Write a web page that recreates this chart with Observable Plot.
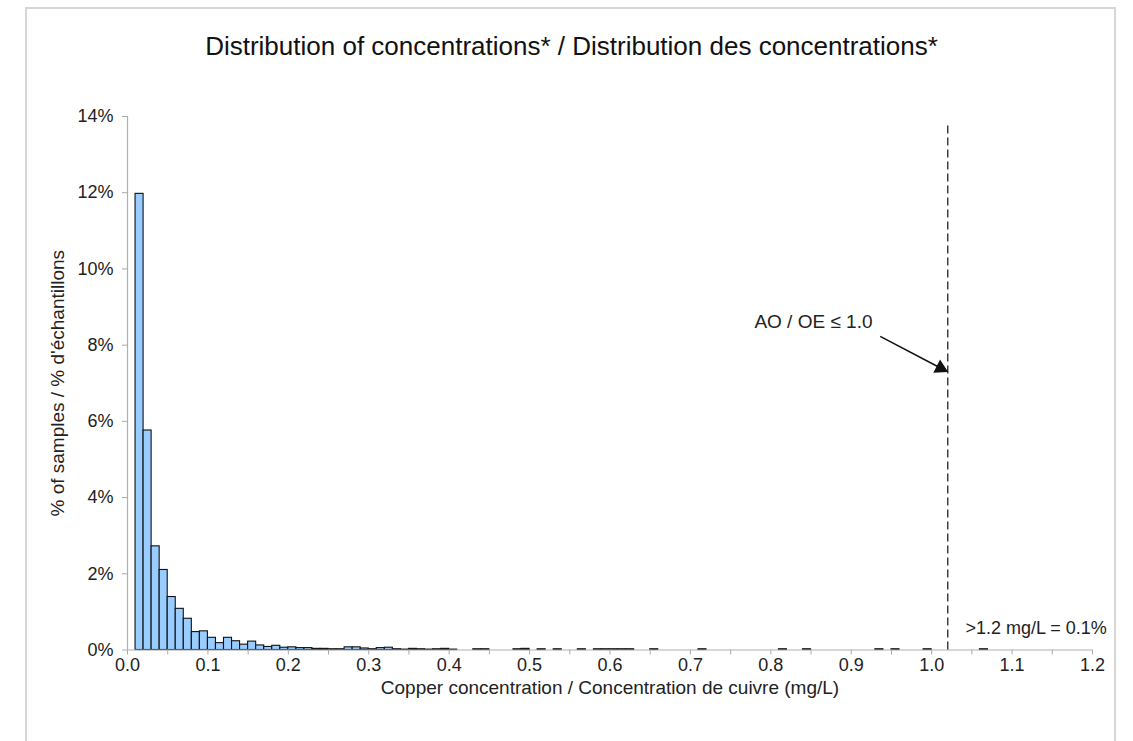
<!DOCTYPE html>
<html>
<head>
<meta charset="utf-8">
<script src="https://cdn.jsdelivr.net/npm/d3@7"></script>
<script src="https://cdn.jsdelivr.net/npm/@observablehq/plot@0.6"></script>
<style>
  body { margin: 0; background: #fff; }
  #wrap { position: relative; width: 1133px; height: 741px; overflow: hidden; }
  #frame { position: absolute; left: 25px; top: 7px; width: 1091px; height: 760px; border: 2px solid #d6d6d6; box-sizing: border-box; pointer-events: none; }
  #chart { position: absolute; left: 0; top: 0; }
</style>
</head>
<body>
<div id="wrap"><div id="chart"></div><div id="frame"></div></div>
<script>
// ---- data ----
const title = "Distribution of concentrations* / Distribution des concentrations*";
const xLabel = "Copper concentration / Concentration de cuivre (mg/L)";
const yLabel = "% of samples / % d'échantillons";
const binWidth = 0.01;
// start of each non-empty bin (mg/L) and its share of samples (%)
const binStarts = [0.01,0.02,0.03,0.04,0.05,0.06,0.07,0.08,0.09,0.10,
  0.11,0.12,0.13,0.14,0.15,0.16,0.17,0.18,0.19,0.20,
  0.21,0.22,0.23,0.24,0.25,0.26,0.27,0.28,0.29,0.30,
  0.31,0.32,0.33,0.34,0.35,0.36,0.37,0.38,0.39,0.40,
  0.43,0.44,0.48,0.49,0.51,0.53,0.56,0.58,0.59,0.60,0.61,0.62,
  0.65,0.71,0.81,0.84,0.93,0.95,0.99,1.06];
const percents = [11.97,5.76,2.72,2.10,1.39,1.08,0.82,0.47,0.49,0.32,
  0.18,0.32,0.23,0.14,0.22,0.12,0.08,0.11,0.06,0.07,
  0.05,0.05,0.03,0.03,0.02,0.02,0.07,0.07,0.04,0.02,
  0.05,0.06,0.02,0.01,0.03,0.02,0.01,0.02,0.03,0.01,
  0.02,0.02,0.02,0.03,0.02,0.02,0.02,0.02,0.02,0.02,0.02,0.02,
  0.02,0.02,0.02,0.02,0.02,0.02,0.02,0.02];
const xLabelTicks = [0,0.1,0.2,0.3,0.4,0.5,0.6,0.7,0.8,0.9,1.0,1.1,1.2];
const xMinorTicks = d3.range(0, 25).map(i => +(i * 0.05).toFixed(2));
const yTicks = [0,2,4,6,8,10,12,14];
const guideline = [1.02];
const guideTop = 13.85;
const aoLabel = [{x: 0.853, y: 8.62, text: "AO / OE ≤ 1.0"}];
const aoArrow = [{x1: 0.936, y1: 8.23, x2: 1.011, y2: 7.40}];
const overLabel = [{x: 1.042, y: 0.56, text: ">1.2 mg/L = 0.1%"}];

const bins = binStarts.map((s, i) => ({x1: s, x2: +(s + binWidth).toFixed(2), y: percents[i]}));

const font = "'Liberation Sans', Arial, Helvetica, sans-serif";
const chart = Plot.plot({
  width: 1133,
  height: 741,
  marginLeft: 127,
  marginRight: 41,
  marginTop: 116,
  marginBottom: 91.5,
  style: {fontFamily: font, background: "transparent", color: "#222"},
  x: {domain: [0, 1.2]},
  y: {domain: [0, 14]},
  marks: [
    Plot.rectY(bins, {x1: "x1", x2: "x2", y: "y", fill: "#99ccff", stroke: "#111", strokeWidth: 1.1}),
    Plot.ruleY([0], {stroke: "#b0b0b0", strokeWidth: 1.2}),
    Plot.ruleX([0], {stroke: "#b0b0b0", strokeWidth: 1.2}),
    Plot.axisY(yTicks, {anchor: "left", label: null, tickSize: 5, tickPadding: 9, tickFormat: d => d + "%", fontSize: 18, stroke: "#aaa", fill: "#222"}),
    Plot.axisX(xMinorTicks, {anchor: "bottom", label: null, tickSize: 5, tickFormat: () => "", stroke: "#aaa"}),
    Plot.axisX(xLabelTicks, {anchor: "bottom", label: null, tickSize: 0, tickPadding: 8, tickFormat: d3.format(".1f"), fontSize: 18, fill: "#222"}),
    Plot.ruleX(guideline, {y1: 0, y2: guideTop, stroke: "#333", strokeWidth: 1.4, strokeDasharray: "8,4"}),
    Plot.link(aoArrow, {x1: "x1", y1: "y1", x2: "x2", y2: "y2", stroke: "#111", strokeWidth: 1.5}),
    Plot.dot(aoArrow, {x: "x2", y: "y2", symbol: "triangle", r: 5.5, fill: "#111", stroke: null, rotate: 117}),
    Plot.text(aoLabel, {x: "x", y: "y", text: "text", fontSize: 19, fill: "#222"}),
    Plot.text(overLabel, {x: "x", y: "y", text: "text", textAnchor: "start", fontSize: 18, fill: "#222"}),
    Plot.text([title], {frameAnchor: "top", dx: -38.5, dy: -80, fontSize: 26, fill: "#111"}),
    Plot.text([xLabel], {frameAnchor: "bottom", dy: 44, fontSize: 19, fill: "#222"}),
    Plot.text([yLabel], {frameAnchor: "left", textAnchor: "middle", dx: -70, rotate: -90, fontSize: 19, fill: "#222"})
  ]
});
document.getElementById("chart").appendChild(chart);
</script>
</body>
</html>
